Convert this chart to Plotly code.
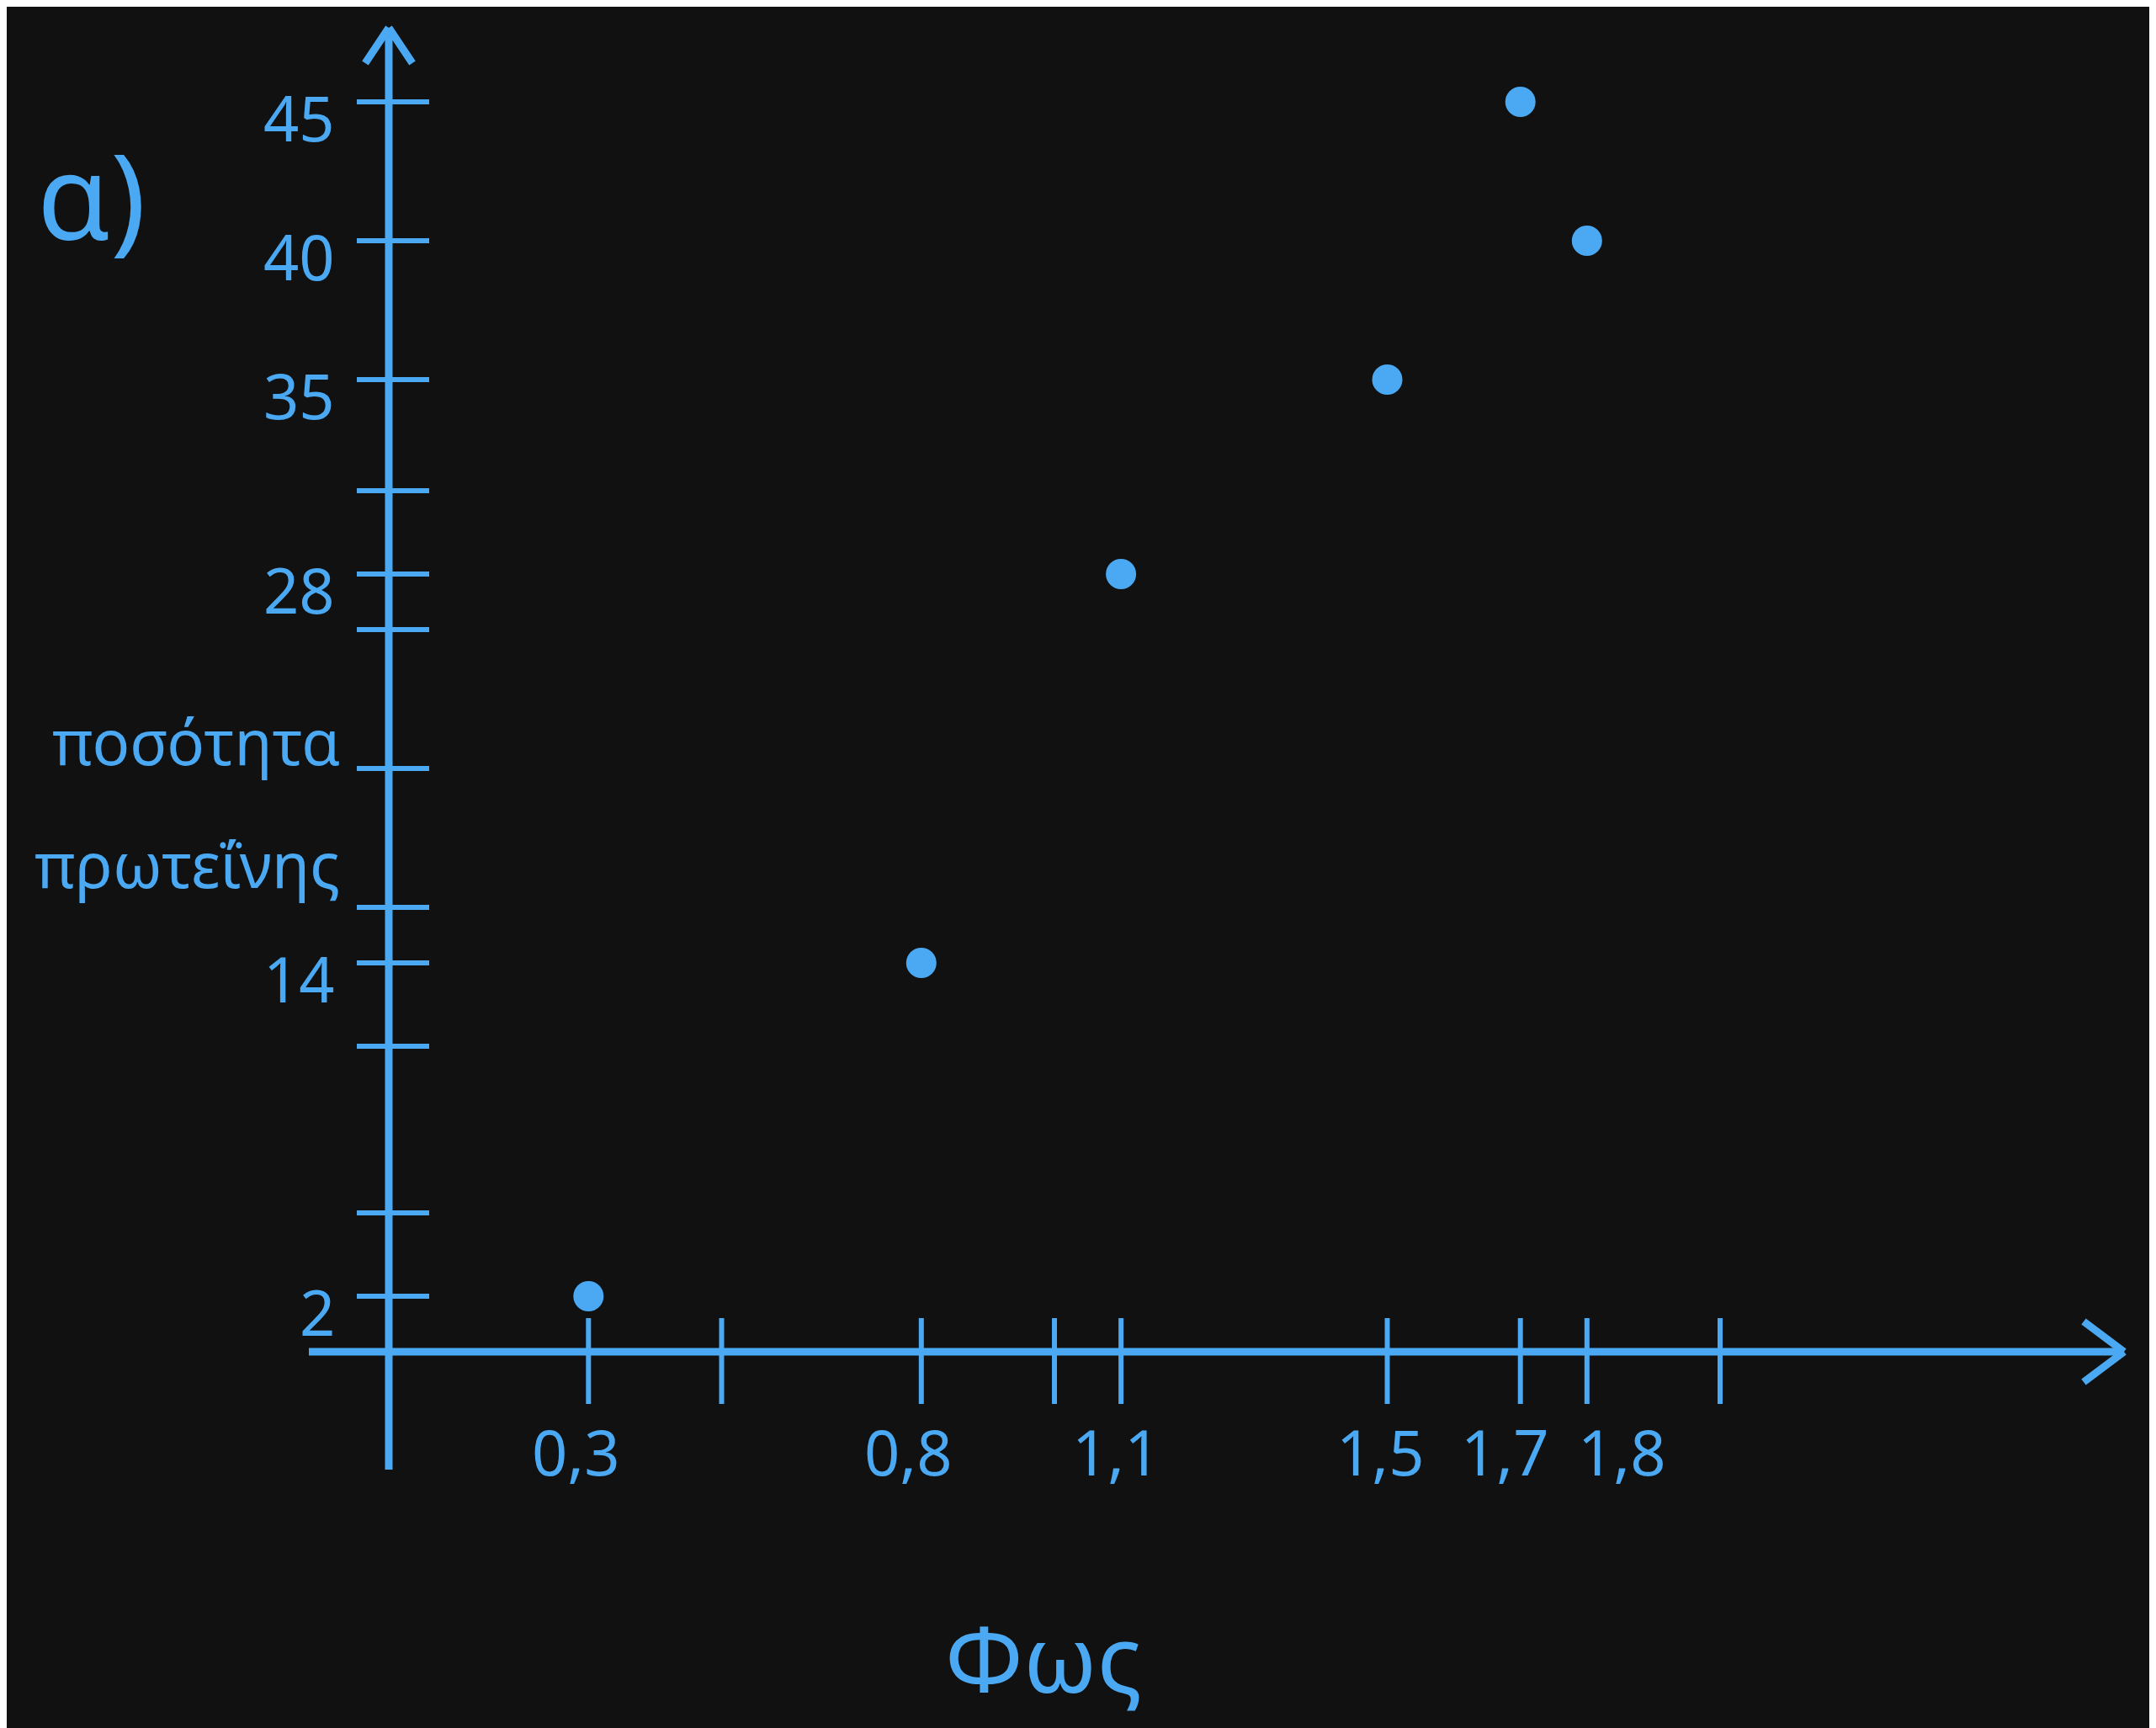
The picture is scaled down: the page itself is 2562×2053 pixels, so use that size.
import plotly.graph_objects as go

# ---- data ----
light = [0.3, 0.8, 1.1, 1.5, 1.7, 1.8]
protein = [2, 14, 28, 35, 45, 40]
x_tick_vals = [0.3, 0.5, 0.8, 1.0, 1.1, 1.5, 1.7, 1.8, 2.0]
x_tick_text = ["0,3", "", "0,8", "", "1,1", "1,5", "1,7", "1,8", ""]
x_label_shift = [-15, 0, -15, 0, -6, -8, -18, 42, 0]
y_tick_vals = [2, 5, 11, 14, 16, 21, 26, 28, 31, 35, 40, 45]
y_tick_text = ["2", "", "", "14", "", "", "", "28", "", "35", "40", "45"]

BLUE = "#4aa9f2"
BG = "#111111"
FONT = "Noto Sans"

W, H = 2562, 2053
X0_PX, X_SCALE = 454, 791.0     # pixel of x=0, px per unit
Y0_PX, Y_SCALE = 1598, 33.0     # pixel (from top) of y=0, px per unit
x_range = [-X0_PX / X_SCALE, (W - X0_PX) / X_SCALE]
y_range = [-(H - Y0_PX) / Y_SCALE, Y0_PX / Y_SCALE]

def dx(px):
    return px / X_SCALE

def dy(px):
    return px / Y_SCALE

fig = go.Figure()
fig.add_trace(go.Scatter(
    x=light, y=protein, mode="markers",
    marker=dict(size=36, color=BLUE, line=dict(width=0)),
    hoverinfo="x+y", showlegend=False,
))

shapes = []
line_axis = dict(color=BLUE, width=9)
line_tick = dict(color=BLUE, width=6)

# axes lines
x_end = x_range[0] + dx(2516)
y_top = y_range[1] - dy(25)
shapes.append(dict(type="line", xref="x", yref="y", x0=-dx(95), x1=x_end, y0=0, y1=0, line=line_axis))
shapes.append(dict(type="line", xref="x", yref="y", x0=0, x1=0, y0=-dy(140), y1=y_top, line=line_axis))
# arrow heads (chevrons)
for s in (1, -1):
    shapes.append(dict(type="line", xref="x", yref="y", x0=x_end, y0=0,
                       x1=x_end - dx(48), y1=s * dy(36), line=line_axis))
    shapes.append(dict(type="line", xref="x", yref="y", x0=0, y0=y_top,
                       x1=s * dx(28), y1=y_top - dy(42), line=line_axis))

annotations = []
# x ticks and labels
for v, t, sh in zip(x_tick_vals, x_tick_text, x_label_shift):
    shapes.append(dict(type="line", xref="x", yref="y", x0=v, x1=v,
                       y0=dy(40), y1=-dy(62), line=line_tick))
    if t:
        annotations.append(dict(x=v, y=-dy(118), xref="x", yref="y", text=t,
                                showarrow=False, xanchor="center", yanchor="middle",
                                xshift=sh,
                                font=dict(family=FONT, size=74, color=BLUE)))
# y ticks and labels
for v, t in zip(y_tick_vals, y_tick_text):
    shapes.append(dict(type="line", xref="x", yref="y", x0=-dx(38), x1=dx(48),
                       y0=v, y1=v, line=line_tick))
    if t:
        annotations.append(dict(x=-dx(62), y=v, xref="x", yref="y", text=t,
                                showarrow=False, xanchor="right", yanchor="middle",
                                yshift=-18,
                                font=dict(family=FONT, size=74, color=BLUE)))

# titles / labels
annotations += [
    dict(x=1232 / W, y=1 - 1960 / H, xref="paper", yref="paper", text="Φως",
         showarrow=False, xanchor="center", yanchor="middle",
         font=dict(family=FONT, size=110, color=BLUE)),
    dict(x=100 / W, y=1 - 222 / H, xref="paper", yref="paper", text="α)",
         showarrow=False, xanchor="center", yanchor="middle",
         font=dict(family=FONT, size=140, color=BLUE)),
    dict(x=398 / W, y=1 - 872 / H, xref="paper", yref="paper", text="ποσότητα",
         showarrow=False, xanchor="right", yanchor="middle",
         font=dict(family=FONT, size=74, color=BLUE)),
    dict(x=398 / W, y=1 - 1018 / H, xref="paper", yref="paper", text="πρωτεΐνης",
         showarrow=False, xanchor="right", yanchor="middle",
         font=dict(family=FONT, size=74, color=BLUE)),
]

fig.update_layout(
    width=W, height=H,
    margin=dict(l=0, r=0, t=0, b=0),
    paper_bgcolor=BG, plot_bgcolor=BG,
    xaxis=dict(range=x_range, visible=False, fixedrange=True),
    yaxis=dict(range=y_range, visible=False, fixedrange=True),
    shapes=shapes, annotations=annotations,
)

fig.write_html("out.html")
